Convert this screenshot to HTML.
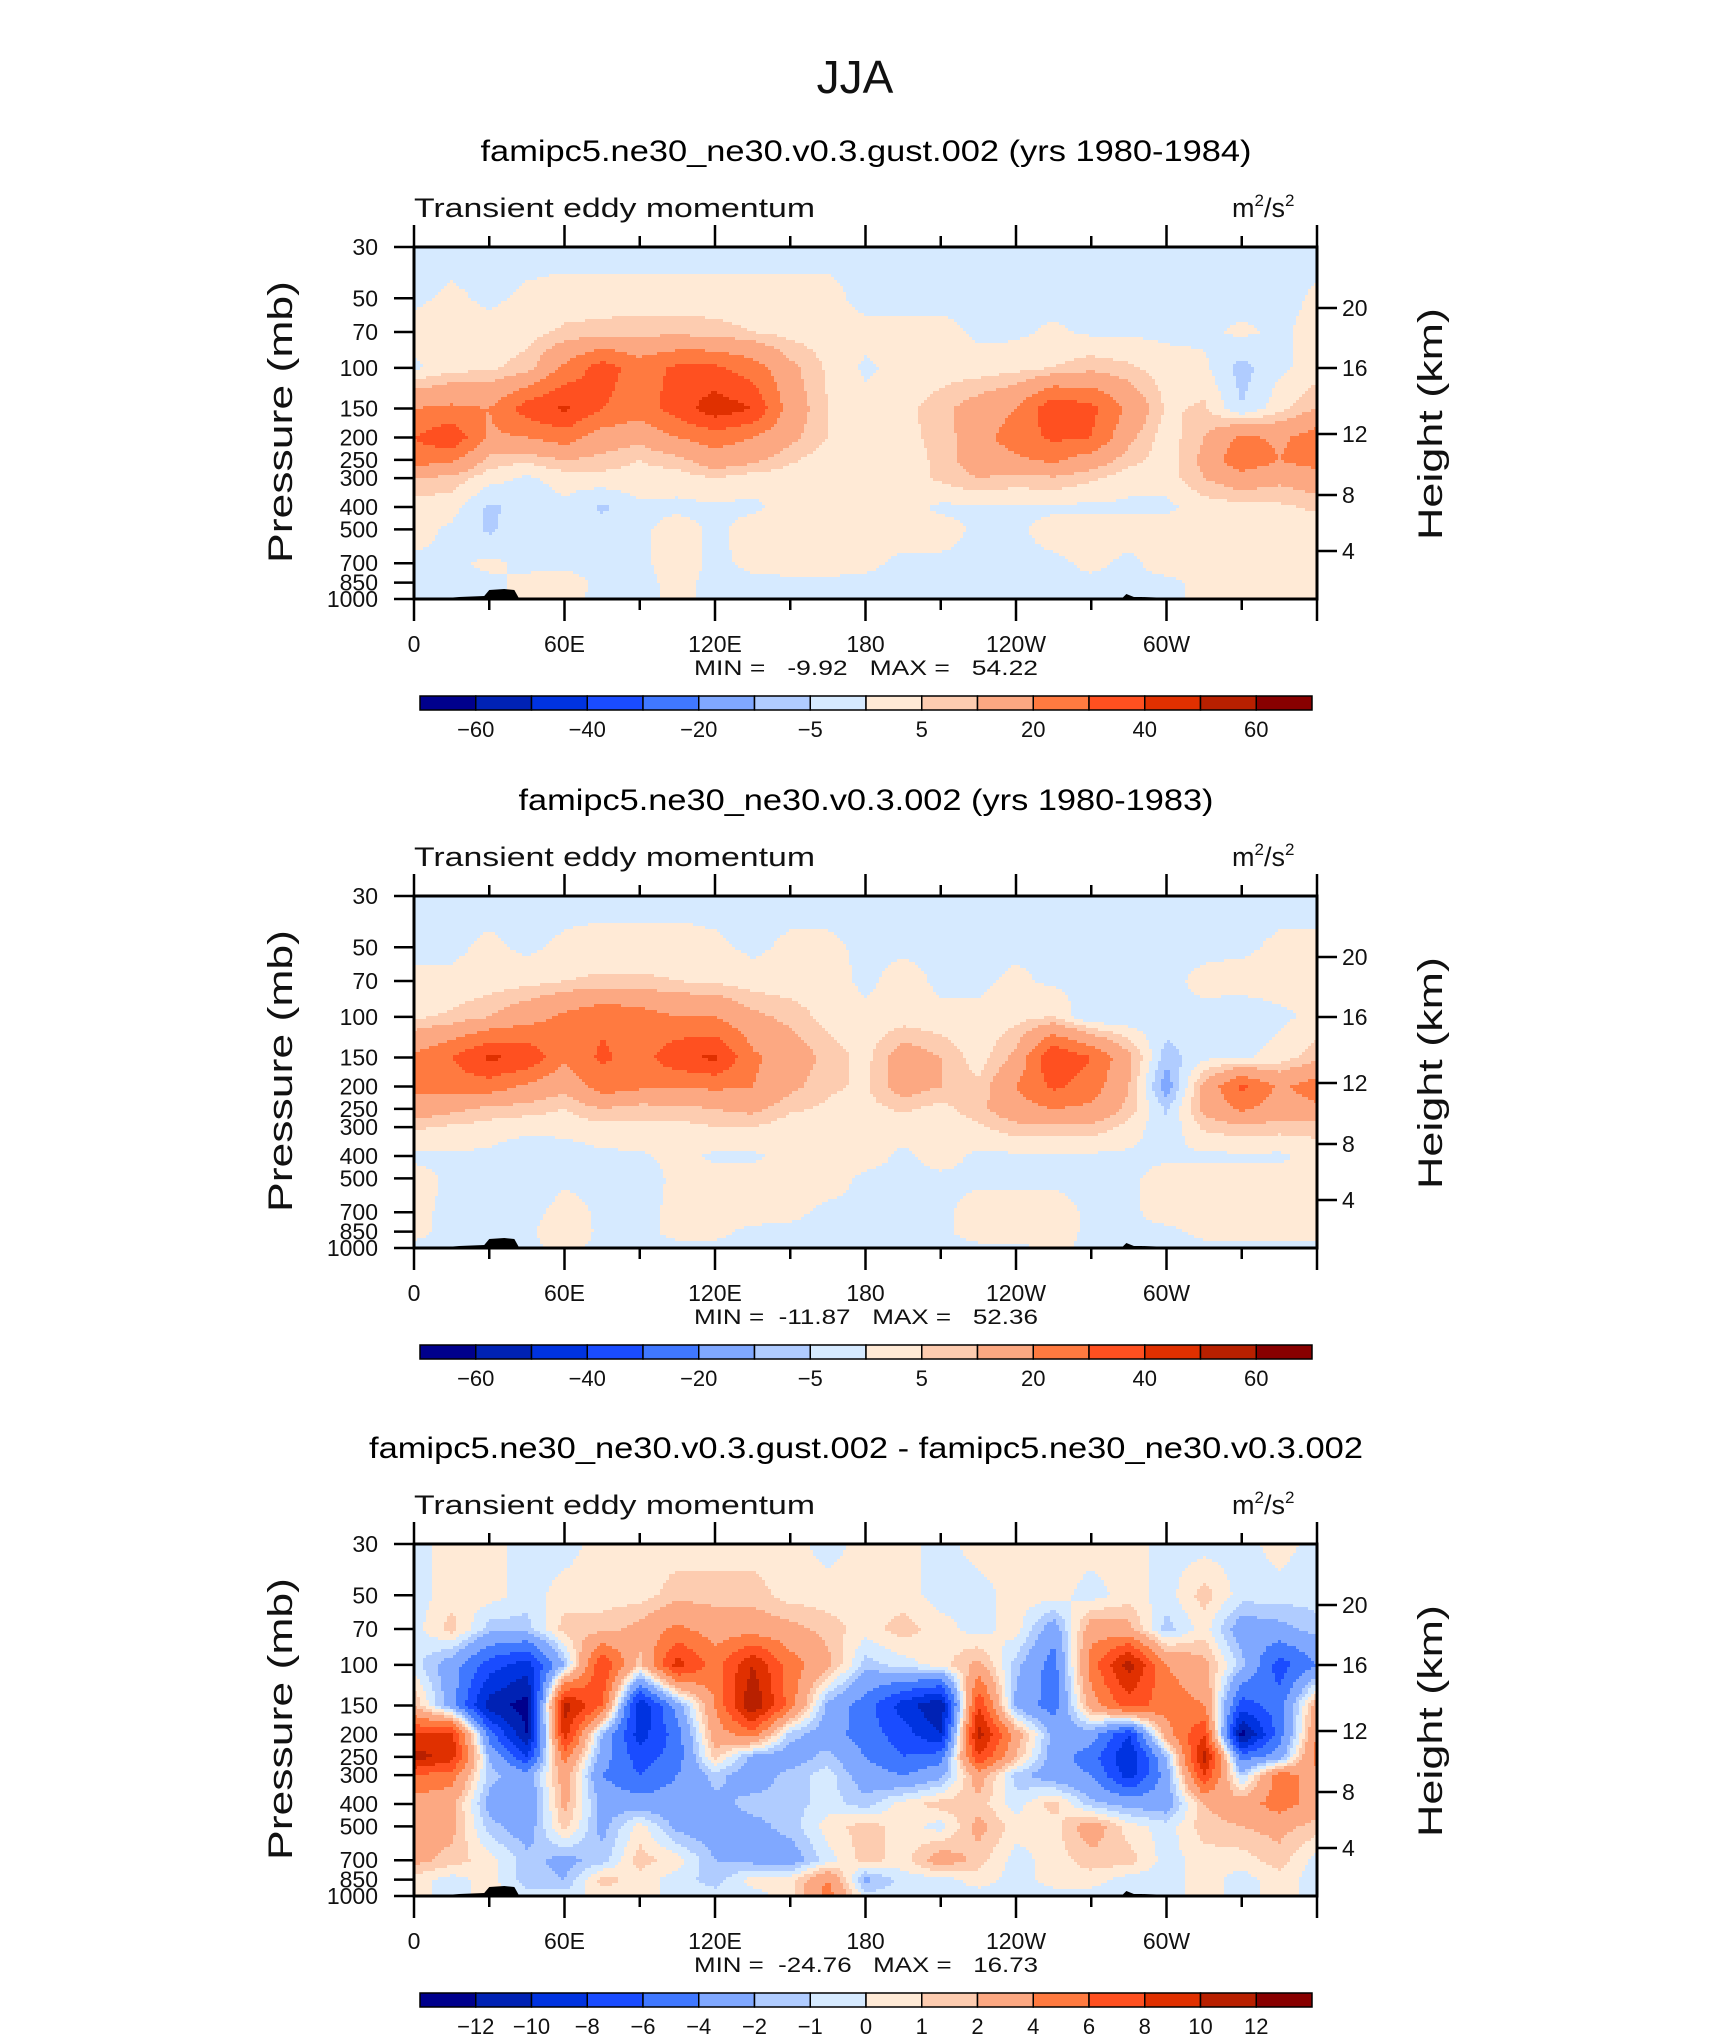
<!DOCTYPE html>
<html><head><meta charset="utf-8"><style>
html,body{margin:0;padding:0;background:#fff;}
svg{display:block;font-family:"Liberation Sans",sans-serif;}
</style></head><body>
<svg id="fig" width="1710" height="2038" viewBox="0 0 1710 2038" xmlns="http://www.w3.org/2000/svg">
<text x="855" y="93" font-size="46" text-anchor="middle" fill="#111">JJA</text>
</svg>
<script>
const lons=[0,15,30,45,60,75,90,105,120,135,150,165,180,195,210,225,240,255,270,285,300,315,330,345,360];
const levels=[30,50,70,100,150,200,250,300,400,500,700,850,1000];
const heightTicks=[20,16,12,8,4];
const heightOffsets=[61,121,187,248,304];
const lonTicks=[0,60,120,180,240,300];
const lonLabels=["0","60E","120E","180","120W","60W"];
const colors=["#00008c","#0022b4","#0033e0","#1a4cff","#4078ff","#80a8ff","#b0ccff","#d6eaff","#ffead6","#fdccb0","#fca882","#ff7a40","#ff5020","#e03000","#b82000","#880000"];
const levA=[-60,-50,-40,-30,-20,-10,-5,0,5,10,20,30,40,50,60];
const labA=["-60","","-40","","-20","","-5","","5","","20","","40","","60"];
const levB=[-12,-10,-8,-6,-4,-2,-1,0,1,2,4,6,8,10,12];
const labB=["-12","-10","-8","-6","-4","-2","-1","0","1","2","4","6","8","10","12"];
const titles=["famipc5.ne30_ne30.v0.3.gust.002 (yrs 1980-1984)","famipc5.ne30_ne30.v0.3.002 (yrs 1980-1983)","famipc5.ne30_ne30.v0.3.gust.002 - famipc5.ne30_ne30.v0.3.002"];
const titleLens=[771,695,994];
const minmax=["MIN =   -9.92   MAX =   54.22","MIN =  -11.87   MAX =   52.36","MIN =  -24.76   MAX =   16.73"];
const field1=[
[-2,-2,-2,-2,-2,-2,-2,-2,-2,-2,-2,-2,-2,-2,-2,-2,-2,-2,-2,-2,-2,-2,-2,-2,-2],
[-1,1,-1,1,2,2,2,2,2,2,2,2,-2,-2,-2,-2,-2,-2,-2,-2,-2,-2,-2,-2,1],
[2,2,2,3,6,7,8,8,7,5,3,2,2,2,2,-1,-1,1,-1,-1,-1,-1,1,-1,2],
[-1,3,4,7,22,35,25,32,32,25,12,4,-1,2,2,2,3,5,8,6,2,1,-7,-1,2],
[20,22,20,35,42,30,25,35,46,40,15,5,2,3,8,14,20,38,33,18,4,6,-5,3,10],
[30,38,18,20,25,15,12,20,25,20,12,5,3,4,6,16,25,32,30,12,2,10,22,18,25],
[25,22,8,6,10,8,5,8,15,12,6,2,2,3,6,15,18,22,15,7,2,12,28,20,25],
[10,8,2,-1,2,3,3,2,5,2,2,2,2,2,6,10,8,9,6,2,2,10,15,12,15],
[2,2,-6,-3,-1,-6,-1,-1,-1,-1,2,2,2,2,-1,-1,-1,-1,-1,-1,-1,2,3,4,6],
[2,-1,-6,-1,-1,-3,-1,2,-1,2,2,2,2,2,2,-1,-1,2,2,2,2,2,2,2,2],
[-1,-1,1,-1,-1,-2,-1,2,-1,1,2,2,1,-1,-1,-1,-1,-1,1,-1,2,2,2,2,2],
[-1,-1,-1,1,2,-1,-1,1,-1,-1,-1,-1,-1,-1,-1,-1,-1,-1,-1,-1,-1,1,1,1,1],
[-1,-1,-1,1,1,-1,-1,1,-1,-1,-1,-1,-1,-1,-1,-1,-1,-1,-1,-1,-1,1,1,1,1]];
const field2=[
[-2,-2,-2,-2,-2,-2,-2,-2,-2,-2,-2,-2,-2,-2,-2,-2,-2,-2,-2,-2,-2,-2,-2,-2,-2],
[-1,-1,1,-1,1,2,2,2,1,-1,1,1,-1,-1,-1,-1,-1,-1,-1,-1,-1,-1,-1,1,1],
[1,1,2,3,5,6,6,5,4,2,2,2,-1,2,-1,-1,1,-1,-1,-1,-1,1,2,2,2],
[4,6,10,16,22,28,25,20,20,12,8,3,1,2,1,1,3,5,-5,-4,-1,-1,-3,-1,1],
[22,30,42,38,22,32,25,38,42,22,15,8,3,15,10,2,12,40,30,12,-8,-1,-1,2,8],
[22,25,25,18,12,25,22,20,22,20,12,6,4,14,10,6,20,32,25,10,-14,12,32,18,25],
[15,12,8,7,5,10,7,8,10,12,6,4,3,6,3,8,16,20,18,8,-6,12,22,15,18],
[6,4,3,2,2,3,4,3,5,5,2,2,2,2,2,4,8,8,8,3,-4,6,8,7,7],
[-1,-1,-1,-5,-3,-1,-1,2,-1,-1,2,2,2,-1,2,-1,-1,-1,-1,-1,-1,-1,-1,-1,2],
[2,-1,-1,-3,-1,-1,-4,2,2,2,2,2,-1,-1,-1,-1,-1,-1,-1,-1,2,2,2,2,2],
[1,-1,-1,-2,2,-1,-1,1,2,2,1,-1,-1,-1,-1,2,2,2,-1,-1,2,2,2,2,2],
[1,-1,-1,-1,3,-1,-1,1,1,-1,-1,-1,-1,-1,-1,2,2,2,-1,-1,-1,1,1,1,1],
[-1,-1,-1,-1,1,-1,-1,-1,-1,-1,-1,-1,-1,-1,-1,-1,-1,1,-1,-1,-1,-1,-1,-1,-1]];
const field3=[
[-0.5,0.5,0.5,-0.5,-0.5,0.5,0.5,0.5,0.5,0.5,0.5,-0.5,0.5,0.5,-0.5,0.5,0.5,0.5,0.5,0.5,-0.5,-0.5,-0.5,0.5,-0.5],
[-0.5,0.5,0.5,-0.5,0.5,0.5,0.5,1.5,1.5,1.5,0.5,0.5,0.5,0.5,-0.5,-0.5,0.5,0.5,-0.5,0.5,-0.5,1.5,-0.5,-0.5,-0.5],
[-0.5,1.5,-1.5,-1.5,1.5,1.5,2.5,4.5,3,3,2.5,1.5,0.5,1.5,0.5,-0.5,0.5,-3,3,2.5,-1.5,0.5,-3,-2.5,-1.5],
[-0.5,-3,-7,-9,-2,8,1.5,9,5,10,5,2.5,-1.5,-0.5,0.5,2.5,-1.5,-5,5,11,4,2.5,-1.5,-7,-4],
[2,-3,-11,-13,11,6,-10,-3,4,12,5,-2.5,-5,-9,-12,8,-2.5,-5,3,7,5,4,-7,-5,3],
[8,9,-5,-12,9,-2,-9,-5,3,5,-1.5,-3,-5,-7,-10,11,3,-2.5,-3,-8,3,8,-13,-5,4],
[11,9,-2,-8,5,-3,-7,-5,1.5,-2.5,-3,-1.5,-4,-6,-5,8,2,-3,-5,-10,-2,11,-5,-3,5],
[6,5,-1.5,-3,3,-4,-6,-4,-1.5,-3,-1.5,-0.5,-3,-4,-2.5,3,-1.5,-3,-4,-9,-3,8,-1.5,5,3],
[3,2.5,-2.5,-4,2.5,-2.5,-3,-3,-2.5,-1.5,-1.5,-0.5,-1.5,0.5,1.5,1.5,-0.5,1.5,-1.5,-2.5,-3,2,3,5,3],
[3,2.5,-1.5,-3,1.5,-2.5,0.5,-2.5,-3,-2.5,-1.5,0.5,1.5,0.5,-0.5,2.5,0.5,0.5,3,0.5,-0.5,1.5,2,2.5,1.5],
[2.5,1.5,0.5,-1.5,-2.5,-1.5,1.5,0.5,-2,-2.5,-3,-0.5,1.5,0.5,3,1.5,-0.5,0.5,1.5,1.5,-0.5,0.5,0.5,1.5,-0.5],
[0.5,-0.5,0.5,-1.5,-2,1.5,0.5,-0.5,-1.5,0.5,0.5,4,-2.5,-0.5,-0.5,0.5,-0.5,0.5,0.5,-0.5,-0.5,0.5,-0.5,0.5,-0.5],
[0.5,-0.5,0.5,-0.5,-0.5,0.5,0.5,-0.5,-0.5,-0.5,0.5,5,-0.5,-0.5,-0.5,-0.5,-0.5,-0.5,-0.5,-0.5,-0.5,0.5,-0.5,0.5,-0.5]];
const topoLon=[8,18,28,30,36,40,42,282,284,287,290,312];
const topoH=[0,2,3,9,10,9,0,0,5,2,2,0];

const NS="http://www.w3.org/2000/svg";
const svg=document.getElementById('fig');
const L=414,R=1317,W=R-L,H=352;
const PT=30,PB=1000,LR=Math.log(PB/PT);
function xOf(lon){return L+lon/360*W;}
function yOf(p,top){return top+Math.log(p/PT)/LR*H;}
function el(tag,attrs,parent){const e=document.createElementNS(NS,tag);for(const k in attrs)e.setAttribute(k,attrs[k]);(parent||svg).appendChild(e);return e;}
function txt(s,attrs,parent){const e=el('text',attrs,parent);e.textContent=s;return e;}
function classify(v,lev){let i=0;while(i<lev.length&&v>=lev[i])i++;return i;}
function sample(field,lon,p){
  const lp=Math.log(p);
  let j=0;while(j<levels.length-2&&Math.log(levels[j+1])<lp)j++;
  let fy=(lp-Math.log(levels[j]))/(Math.log(levels[j+1])-Math.log(levels[j]));fy=Math.max(0,Math.min(1,fy));
  let i=Math.min(lons.length-2,Math.floor(lon/15));let fx=(lon-lons[i])/15;
  const a=field[j][i],b=field[j][i+1],c=field[j+1][i],d=field[j+1][i+1];
  return (a*(1-fx)+b*fx)*(1-fy)+(c*(1-fx)+d*fx)*fy;
}
const fields=[field1,field2,field3];
const levSets=[levA,levA,levB];
const labSets=[labA,labA,labB];
const offsets=[0,649,1297];
for(let k=0;k<3;k++){
  const off=offsets[k],top=247+off;
  const g=el('g',{});
  
  
  const t=txt(titles[k],{x:866,y:161+off,'font-size':30,'text-anchor':'middle',fill:'#000',textLength:titleLens[k],lengthAdjust:'spacingAndGlyphs'},g);
  
  
  const st=txt('Transient eddy momentum',{x:L,y:217+off,'font-size':27,fill:'#111',textLength:401,lengthAdjust:'spacingAndGlyphs'},g);
  
  
  const un=el('text',{x:1232,y:217+off,'font-size':27,fill:'#111'},g);
  un.innerHTML='m<tspan dy="-11" font-size="17">2</tspan><tspan dy="11">/s</tspan><tspan dy="-11" font-size="17">2</tspan>';
  
  
  const fg=el('g',{'shape-rendering':'crispEdges'},g);
  
  
  const step=3;
  for(let y=0;y<H;y+=step){
    const p=PT*Math.exp((y+step/2)/H*LR);
    let runStart=0,runC=-1;
    for(let x=0;x<=W;x+=step){
      let c=-2;
      if(x<W){const lon=(x+step/2)/W*360;c=classify(sample(fields[k],Math.min(lon,360),p),levSets[k]);}
      if(c!==runC){
        if(runC>=0){
          const r=el('rect',{x:L+runStart,y:top+y,width:Math.min(x,W)-runStart,height:Math.min(step,H-y),fill:colors[runC]},fg);
          
          
        }
        runStart=x;runC=c;
      }
    }
  }
  let d='M'+xOf(topoLon[0])+','+(top+H);
  for(let i=0;i<topoLon.length;i++){d+=' L'+xOf(topoLon[i])+','+(top+H-topoH[i]);}
  d+=' Z';
  const tp=el('path',{d:d,fill:'#000'},g);
  
  
  const fr=el('rect',{x:L,y:top,width:W,height:H,fill:'none',stroke:'#000','stroke-width':3},g);
  
  
  for(let lon=0;lon<=360;lon+=30){
    const maj=lon%60===0;const x=xOf(lon);const len=maj?22:11;
    el('line',{x1:x,y1:top,x2:x,y2:top-len,stroke:'#000','stroke-width':2.5},g);
    el('line',{x1:x,y1:top+H,x2:x,y2:top+H+len,stroke:'#000','stroke-width':2.5},g);
  }
  for(let i=0;i<lonTicks.length;i++){
    const tl=txt(lonLabels[i],{x:xOf(lonTicks[i]),y:top+H+53,'font-size':23,'text-anchor':'middle',fill:'#111'},g);
    
    
  }
  for(const p of levels){
    const y=yOf(p,top);
    el('line',{x1:L,y1:y,x2:L-20,y2:y,stroke:'#000','stroke-width':2.5},g);
    const pl=txt(String(p),{x:378,y:y+8,'font-size':23,'text-anchor':'end',fill:'#111'},g);
    
    
  }
  for(let i=0;i<heightTicks.length;i++){
    const y=top+heightOffsets[i];
    el('line',{x1:R,y1:y,x2:R+20,y2:y,stroke:'#000','stroke-width':2.5},g);
    const hl=txt(String(heightTicks[i]),{x:1342,y:y+8,'font-size':23,fill:'#111'},g);
    
    
  }
  const yl=txt('Pressure  (mb)',{x:0,y:0,'font-size':34,'text-anchor':'middle',fill:'#111',transform:'translate(292,'+(top+H/2-1)+') rotate(-90)',textLength:282,lengthAdjust:'spacingAndGlyphs'},g);
  
  
  const hl2=txt('Height  (km)',{x:0,y:0,'font-size':34,'text-anchor':'middle',fill:'#111',transform:'translate(1442,'+(top+177)+') rotate(-90)',textLength:232,lengthAdjust:'spacingAndGlyphs'},g);
  
  
  const mm=txt(minmax[k],{x:866,y:top+H+76,'font-size':21,'text-anchor':'middle',fill:'#111',textLength:344,lengthAdjust:'spacingAndGlyphs'},g);
  mm.setAttribute('style','white-space:pre');
  
  
  const cb=el('g',{},g);
  
  
  const cx0=420,cx1=1312,cy=696+off,ch=14,bw=(cx1-cx0)/16;
  for(let i=0;i<16;i++){
    const r=el('rect',{x:cx0+i*bw,y:cy,width:bw,height:ch,fill:colors[i],stroke:'#000','stroke-width':1.5},cb);
    
    
  }
  for(let i=0;i<15;i++){
    if(!labSets[k][i])continue;
    const cl=txt(labSets[k][i].replace('-','\u2212'),{x:cx0+(i+1)*bw,y:cy+41,'font-size':22,'text-anchor':'middle',fill:'#111'},cb);
    
    
  }
}
</script>
</body></html>
